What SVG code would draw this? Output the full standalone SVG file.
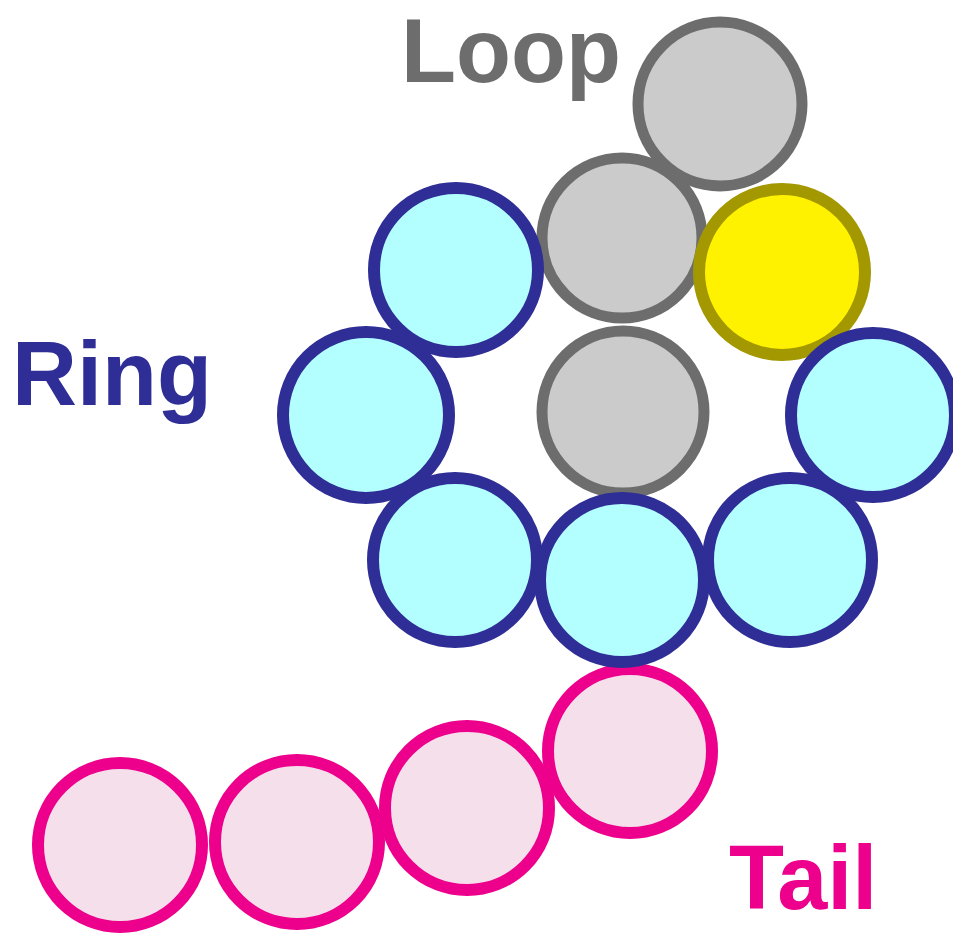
<svg xmlns="http://www.w3.org/2000/svg" width="953" height="935" viewBox="0 0 953 935">
  <style>
    .label { font-family: "Liberation Sans", Arial, sans-serif; font-weight: bold; font-size: 90px; }
    .loop { fill: #cbcbcb; stroke: #6d6d6d; stroke-width: 11; }
    .site { fill: #fff200; stroke: #a39800; stroke-width: 12; }
    .ring { fill: #b3ffff; stroke: #2e2e96; stroke-width: 12; }
    .tail { fill: #f5dfea; stroke: #ec008c; stroke-width: 12; }
  </style>
  <rect width="953" height="935" fill="#ffffff"/>

  <!-- tail beads -->
  <g id="tail-1"><circle class="tail" cx="120" cy="845" r="82"/></g>
  <g id="tail-2"><circle class="tail" cx="297" cy="842" r="82"/></g>
  <g id="tail-3"><circle class="tail" cx="467" cy="808" r="82"/></g>
  <g id="tail-4"><circle class="tail" cx="630" cy="751" r="82"/></g>

  <!-- loop beads -->
  <g id="loop-1"><circle class="loop" cx="720" cy="104" r="82"/></g>
  <g id="loop-2"><circle class="loop" cx="622" cy="238" r="80"/></g>
  <g id="loop-3"><circle class="loop" cx="623" cy="412" r="81"/></g>

  <!-- yellow bead -->
  <g id="site"><circle class="site" cx="782" cy="272" r="83"/></g>

  <!-- ring beads -->
  <g id="ring-1"><circle class="ring" cx="456" cy="270" r="82"/></g>
  <g id="ring-2"><circle class="ring" cx="366" cy="415" r="83"/></g>
  <g id="ring-3"><circle class="ring" cx="455" cy="560" r="82"/></g>
  <g id="ring-4"><circle class="ring" cx="622" cy="580" r="82"/></g>
  <g id="ring-5"><circle class="ring" cx="790" cy="560" r="82"/></g>
  <g id="ring-6"><circle class="ring" cx="873" cy="415" r="82"/></g>

  <!-- labels -->
  <g id="labels">
    <text class="label" x="401" y="82" fill="#6d6d6d">Loop</text>
    <text class="label" x="12" y="405" fill="#2e2e96" font-size="88">Ring</text>
    <text class="label" x="729" y="909" fill="#ec008c">Tail</text>
  </g>
</svg>
